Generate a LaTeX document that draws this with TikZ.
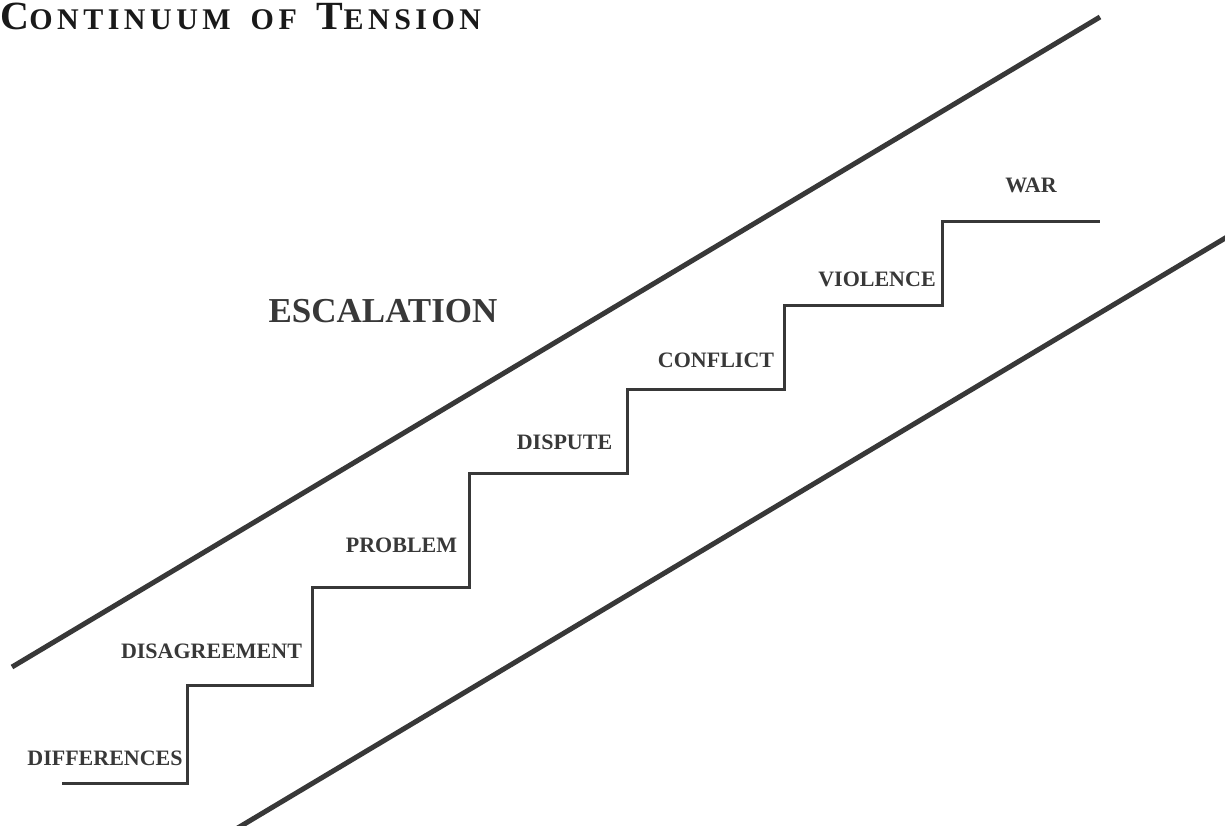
\documentclass[tikz,border=0pt]{standalone}
\usepackage{fontspec}
\setmainfont{Liberation Serif}
\newfontfamily\titlefont[LetterSpace=15]{Liberation Serif}
\definecolor{ink}{HTML}{383838}
\begin{document}
\begin{tikzpicture}[
    x=0.5pt, y=-0.5pt,
    step label/.style={anchor=base, inner sep=0pt, text=ink,
                       font=\fontsize{11}{13}\selectfont\bfseries},
    big label/.style={anchor=base, inner sep=0pt, text=ink,
                      font=\fontsize{17.5}{20}\selectfont\bfseries},
    rail/.style={draw=ink, line width=2.5pt},
    stair/.style={draw=ink, line width=1.5pt, line join=miter}
  ]
    \useasboundingbox (0,0) rectangle (1225,825);
    \clip (0,0) rectangle (1225,825);

    % title
    \node[anchor=base west, inner sep=0pt, text=black!90, font=\titlefont\bfseries] (title) at (0,29)
      {\fontsize{20}{22}\selectfont C\fontsize{15}{16}\selectfont ONTINUUM\hspace{4pt} OF\hspace{4pt}
       \fontsize{20}{22}\selectfont T\fontsize{15}{16}\selectfont ENSION};

    % the two rails
    \draw[rail] (12,667) -- (1100,17);
    \draw[rail] (236,829) -- (1232,234);

    % the staircase
    \draw[stair] (62,783) -- (187,783) -- (187,685) -- (312,685) -- (312,587)
      -- (469,587) -- (469,473) -- (627,473) -- (627,389) -- (784,389)
      -- (784,305) -- (942,305) -- (942,221) -- (1100,221);

    % step labels
    \node[step label] (differences)  at (105,765)   {DIFFERENCES};
    \node[step label] (disagreement) at (211.5,658) {DISAGREEMENT};
    \node[step label] (problem)      at (401.5,552) {PROBLEM};
    \node[step label] (dispute)      at (564.5,449) {DISPUTE};
    \node[step label] (conflict)     at (716,367)   {CONFLICT};
    \node[step label] (violence)     at (877,286)   {VIOLENCE};
    \node[step label] (war)          at (1031,192)  {WAR};

    \node[big label] (escalation) at (383,322) {ESCALATION};
\end{tikzpicture}
\end{document}
